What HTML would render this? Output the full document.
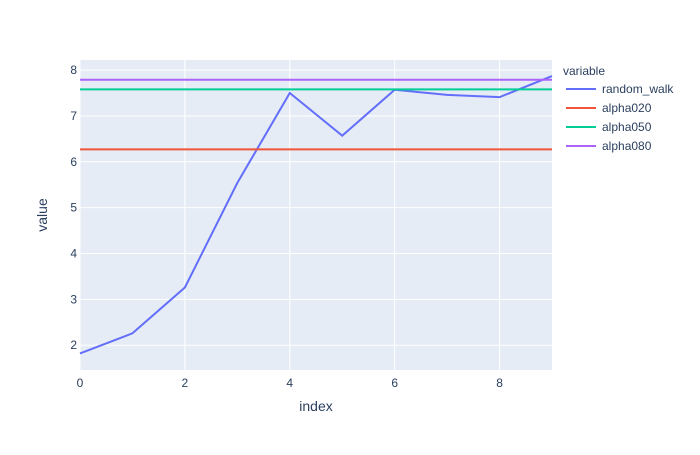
<!DOCTYPE html>
<html><head><meta charset="utf-8"><style>
body{margin:0;background:#fff;font-family:"Liberation Sans",Arial,sans-serif}
svg text{font-family:"Liberation Sans",Arial,sans-serif;fill:#2a3f5f}
</style></head><body>
<svg id="chart" width="700" height="450" xmlns="http://www.w3.org/2000/svg">
<rect width="700" height="450" fill="#fff"/>
<rect x="80" y="60" width="472" height="310" fill="#e5ecf6"/>
<g id="grid"></g><g id="series"></g><g id="ticks"></g>
<text x="316" y="411" text-anchor="middle" font-size="14">index</text>
<text x="47" y="215" text-anchor="middle" font-size="14" transform="rotate(-90 47 215)">value</text>
<g id="legend">
<text x="563" y="75" font-size="12">variable</text>
</g>
</svg>
<script>
const xValues=[0,1,2,3,4,5,6,7,8,9];
const randomWalk=[1.82,2.26,3.26,5.54,7.5,6.57,7.57,7.46,7.41,7.87];
const alpha020=6.27;
const alpha050=7.58;
const alpha080=7.79;
const xTicks=[0,2,4,6,8];
const yTicks=[2,3,4,5,6,7,8];
const seriesNames=["random_walk","alpha020","alpha050","alpha080"];
const colors=["#636efa","#EF553B","#00cc96","#ab63fa"];
const ns="http://www.w3.org/2000/svg";
const X0=80,X1=552,Y0=370,Y1=60,xmin=0,xmax=9,ymin=1.46,ymax=8.22;
const sx=v=>X0+(v-xmin)/(xmax-xmin)*(X1-X0);
const sy=v=>Y0-(v-ymin)/(ymax-ymin)*(Y0-Y1);
function mk(tag,attrs,parent){const e=document.createElementNS(ns,tag);for(const k in attrs)e.setAttribute(k,attrs[k]);document.getElementById(parent).appendChild(e);return e;}
xTicks.forEach(t=>{
 const l=mk('line',{x1:sx(t),x2:sx(t),y1:Y1,y2:Y0,stroke:'#fff','stroke-width':1},'grid');
 
 
 const tx=mk('text',{x:sx(t),y:Y0+17,'text-anchor':'middle','font-size':12},'ticks');tx.textContent=t;
 
 
});
yTicks.forEach(t=>{
 const l=mk('line',{x1:X0,x2:X1,y1:sy(t),y2:sy(t),stroke:'#fff','stroke-width':1},'grid');
 
 
 const tx=mk('text',{x:X0-3,y:sy(t)+4,'text-anchor':'end','font-size':12},'ticks');tx.textContent=t;
 
 
});
function line(vals,color,name){
 const p=mk('polyline',{points:xValues.map((x,i)=>sx(x)+','+sy(vals[i])).join(' '),fill:'none',stroke:color,'stroke-width':2},'series');
 
 
}
line(randomWalk,colors[0],'random-walk-line');
line(xValues.map(()=>alpha020),colors[1],'alpha020-line');
line(xValues.map(()=>alpha050),colors[2],'alpha050-line');
line(xValues.map(()=>alpha080),colors[3],'alpha080-line');
seriesNames.forEach((n,i)=>{
 const y=89+i*19;
 const l=mk('line',{x1:566,x2:596,y1:y,y2:y,stroke:colors[i],'stroke-width':2},'legend');
 
 
 const t=mk('text',{x:602,y:y+4,'font-size':12},'legend');t.textContent=n;
 
 
});
</script>
</body></html>
